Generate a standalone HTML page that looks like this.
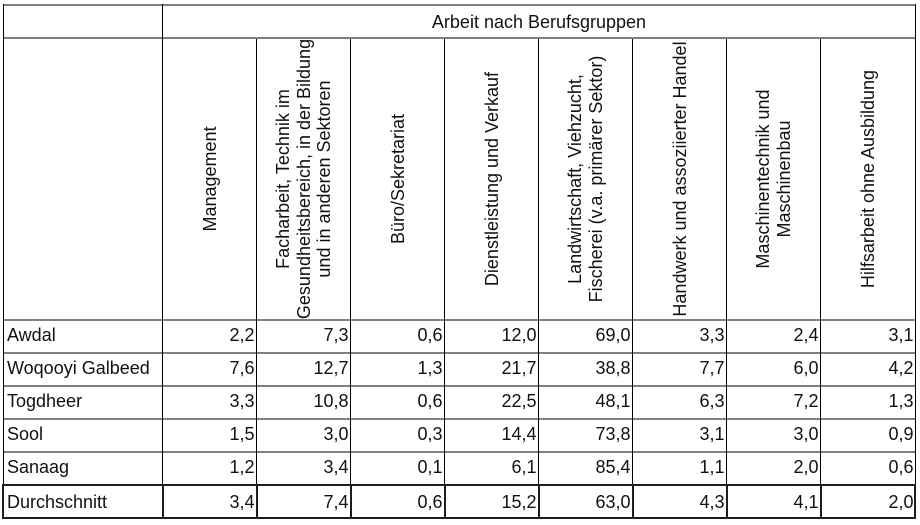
<!DOCTYPE html>
<html>
<head>
<meta charset="utf-8">
<style>
  html,body{margin:0;padding:0;background:#fff;}
  #c{position:relative;width:920px;height:525px;overflow:hidden;background:#fff;
     font-family:"Liberation Sans",Arial,sans-serif;font-size:18px;color:#111;}
  .h{position:absolute;background:#808080;height:2px;}
  .v{position:absolute;background:#000;width:1px;}
  .d{position:absolute;background:#1e1e1e;}
  .t{position:absolute;height:20.7px;line-height:20.7px;white-space:nowrap;}
  .n{position:absolute;height:20.7px;line-height:20.7px;white-space:nowrap;text-align:right;}
  .r{position:absolute;width:280px;height:94px;display:flex;align-items:center;justify-content:center;
     text-align:center;line-height:20.6px;white-space:nowrap;transform:rotate(-90deg);}
</style>
</head>
<body>
<div id="c">
  <!-- horizontal gray lines -->
  <div class="h" style="left:3px;top:4px;width:913px;"></div>
  <div class="h" style="left:3px;top:37px;width:913px;"></div>
  <div class="h" style="left:3px;top:319px;width:913px;"></div>
  <div class="h" style="left:3px;top:352px;width:913px;"></div>
  <div class="h" style="left:3px;top:385px;width:913px;"></div>
  <div class="h" style="left:3px;top:418px;width:913px;"></div>
  <div class="h" style="left:3px;top:451px;width:913px;"></div>

  <!-- vertical lines -->
  <div class="v" style="left:3px;top:4px;height:481px;"></div>
  <div class="v" style="left:162px;top:4px;height:481px;"></div>
  <div class="v" style="left:915px;top:4px;height:481px;"></div>
  <div class="v" style="left:256px;top:39px;height:446px;"></div>
  <div class="v" style="left:350px;top:39px;height:446px;"></div>
  <div class="v" style="left:444px;top:39px;height:446px;"></div>
  <div class="v" style="left:538px;top:39px;height:446px;"></div>
  <div class="v" style="left:632px;top:39px;height:446px;"></div>
  <div class="v" style="left:726px;top:39px;height:446px;"></div>
  <div class="v" style="left:820px;top:39px;height:446px;"></div>

  <!-- Durchschnitt row dark borders -->
  <div class="d" style="left:2px;top:484px;width:914px;height:2px;"></div>
  <div class="d" style="left:2px;top:517px;width:914px;height:2px;"></div>
  <div class="d" style="left:2px;top:484px;width:2px;height:35px;"></div>
  <div class="d" style="left:914px;top:484px;width:2px;height:35px;"></div>
  <div class="d" style="left:162px;top:484px;width:2px;height:35px;"></div>
  <div class="d" style="left:256px;top:484px;width:2px;height:35px;"></div>
  <div class="d" style="left:350px;top:484px;width:2px;height:35px;"></div>
  <div class="d" style="left:444px;top:484px;width:2px;height:35px;"></div>
  <div class="d" style="left:538px;top:484px;width:2px;height:35px;"></div>
  <div class="d" style="left:632px;top:484px;width:2px;height:35px;"></div>
  <div class="d" style="left:726px;top:484px;width:2px;height:35px;"></div>
  <div class="d" style="left:820px;top:484px;width:2px;height:35px;"></div>

  <!-- top header -->
  <div class="t" style="left:163px;width:752px;top:12.4px;text-align:center;">Arbeit nach Berufsgruppen</div>

  <!-- rotated headers: cell y 39..319 center 179; box 280x94 -->
  <div class="r" style="left:70px;top:132px;">Management</div>
  <div class="r" style="left:164px;top:132px;">Facharbeit, Technik im<br>Gesundheitsbereich, in der Bildung<br>und in anderen Sektoren</div>
  <div class="r" style="left:258px;top:132px;">Büro/Sekretariat</div>
  <div class="r" style="left:352px;top:132px;">Dienstleistung und Verkauf</div>
  <div class="r" style="left:446px;top:132px;">Landwirtschaft, Viehzucht,<br>Fischerei (v.a. primärer Sektor)</div>
  <div class="r" style="left:540px;top:132px;">Handwerk und assoziierter Handel</div>
  <div class="r" style="left:634px;top:132px;">Maschinentechnik und<br>Maschinenbau</div>
  <div class="r" style="left:728px;top:132px;">Hilfsarbeit ohne Ausbildung</div>

  <!-- row labels -->
  <div class="t" style="left:7px;top:325.4px;">Awdal</div>
  <div class="t" style="left:7px;top:358.4px;">Woqooyi Galbeed</div>
  <div class="t" style="left:7px;top:391.4px;">Togdheer</div>
  <div class="t" style="left:7px;top:424.4px;">Sool</div>
  <div class="t" style="left:7px;top:457.4px;">Sanaag</div>
  <div class="t" style="left:7px;top:492.4px;">Durchschnitt</div>

  <!-- Awdal -->
  <div class="n" style="left:164px;width:90.5px;top:325.4px;">2,2</div>
  <div class="n" style="left:258px;width:90.5px;top:325.4px;">7,3</div>
  <div class="n" style="left:352px;width:90.5px;top:325.4px;">0,6</div>
  <div class="n" style="left:446px;width:90.5px;top:325.4px;">12,0</div>
  <div class="n" style="left:540px;width:90.5px;top:325.4px;">69,0</div>
  <div class="n" style="left:634px;width:90.5px;top:325.4px;">3,3</div>
  <div class="n" style="left:728px;width:90.5px;top:325.4px;">2,4</div>
  <div class="n" style="left:822px;width:91.5px;top:325.4px;">3,1</div>

  <!-- Woqooyi Galbeed -->
  <div class="n" style="left:164px;width:90.5px;top:358.4px;">7,6</div>
  <div class="n" style="left:258px;width:90.5px;top:358.4px;">12,7</div>
  <div class="n" style="left:352px;width:90.5px;top:358.4px;">1,3</div>
  <div class="n" style="left:446px;width:90.5px;top:358.4px;">21,7</div>
  <div class="n" style="left:540px;width:90.5px;top:358.4px;">38,8</div>
  <div class="n" style="left:634px;width:90.5px;top:358.4px;">7,7</div>
  <div class="n" style="left:728px;width:90.5px;top:358.4px;">6,0</div>
  <div class="n" style="left:822px;width:91.5px;top:358.4px;">4,2</div>

  <!-- Togdheer -->
  <div class="n" style="left:164px;width:90.5px;top:391.4px;">3,3</div>
  <div class="n" style="left:258px;width:90.5px;top:391.4px;">10,8</div>
  <div class="n" style="left:352px;width:90.5px;top:391.4px;">0,6</div>
  <div class="n" style="left:446px;width:90.5px;top:391.4px;">22,5</div>
  <div class="n" style="left:540px;width:90.5px;top:391.4px;">48,1</div>
  <div class="n" style="left:634px;width:90.5px;top:391.4px;">6,3</div>
  <div class="n" style="left:728px;width:90.5px;top:391.4px;">7,2</div>
  <div class="n" style="left:822px;width:91.5px;top:391.4px;">1,3</div>

  <!-- Sool -->
  <div class="n" style="left:164px;width:90.5px;top:424.4px;">1,5</div>
  <div class="n" style="left:258px;width:90.5px;top:424.4px;">3,0</div>
  <div class="n" style="left:352px;width:90.5px;top:424.4px;">0,3</div>
  <div class="n" style="left:446px;width:90.5px;top:424.4px;">14,4</div>
  <div class="n" style="left:540px;width:90.5px;top:424.4px;">73,8</div>
  <div class="n" style="left:634px;width:90.5px;top:424.4px;">3,1</div>
  <div class="n" style="left:728px;width:90.5px;top:424.4px;">3,0</div>
  <div class="n" style="left:822px;width:91.5px;top:424.4px;">0,9</div>

  <!-- Sanaag -->
  <div class="n" style="left:164px;width:90.5px;top:457.4px;">1,2</div>
  <div class="n" style="left:258px;width:90.5px;top:457.4px;">3,4</div>
  <div class="n" style="left:352px;width:90.5px;top:457.4px;">0,1</div>
  <div class="n" style="left:446px;width:90.5px;top:457.4px;">6,1</div>
  <div class="n" style="left:540px;width:90.5px;top:457.4px;">85,4</div>
  <div class="n" style="left:634px;width:90.5px;top:457.4px;">1,1</div>
  <div class="n" style="left:728px;width:90.5px;top:457.4px;">2,0</div>
  <div class="n" style="left:822px;width:91.5px;top:457.4px;">0,6</div>

  <!-- Durchschnitt -->
  <div class="n" style="left:164px;width:90.5px;top:492.4px;">3,4</div>
  <div class="n" style="left:258px;width:90.5px;top:492.4px;">7,4</div>
  <div class="n" style="left:352px;width:90.5px;top:492.4px;">0,6</div>
  <div class="n" style="left:446px;width:90.5px;top:492.4px;">15,2</div>
  <div class="n" style="left:540px;width:90.5px;top:492.4px;">63,0</div>
  <div class="n" style="left:634px;width:90.5px;top:492.4px;">4,3</div>
  <div class="n" style="left:728px;width:90.5px;top:492.4px;">4,1</div>
  <div class="n" style="left:822px;width:91.5px;top:492.4px;">2,0</div>
</div>
</body>
</html>
